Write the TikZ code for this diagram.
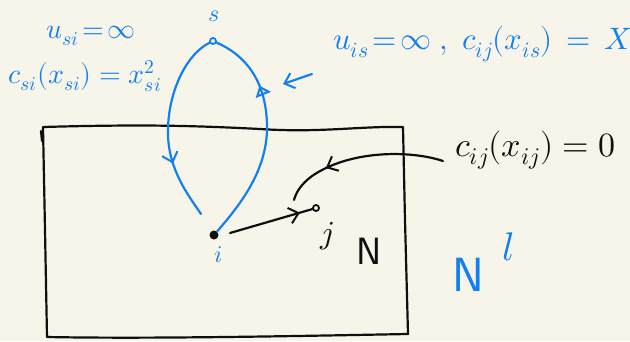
\documentclass[tikz,border=0pt]{standalone}
\usepackage{unicode-math}
\setmathfont{Latin Modern Math}
\usetikzlibrary{arrows.meta,decorations.markings}
\definecolor{bg}{RGB}{247,245,234}
\definecolor{blueink}{RGB}{18,128,240}
\definecolor{ink}{RGB}{15,15,15}
\tikzset{
  blueline/.style={draw=blueink,line width=2.2pt,line cap=round,line join=round},
  blackline/.style={draw=ink,line width=2.2pt,line cap=round,line join=round},
  opencirc/.style={circle,draw=ink,line width=1.8pt,inner sep=0pt,minimum size=6pt},
  dotnode/.style={circle,fill=ink,inner sep=0pt,minimum size=9pt},
  bluetxt/.style={text=blueink,inner sep=0pt,font=\fontsize{28}{30}\selectfont},
  blacktxt/.style={text=ink,inner sep=0pt,font=\fontsize{28}{30}\selectfont},
  midbarb/.style={postaction={decorate,decoration={markings,
     mark=at position #1 with {\arrow{Straight Barb[length=9pt,width=16pt,line width=2pt]}}}}},
  midtri/.style={postaction={decorate,decoration={markings,
     mark=at position #1 with {\arrow{Triangle[open,length=10pt,width=16pt,line width=2pt]}}}}}
}
\begin{document}
\begin{tikzpicture}[x=1pt,y=-1pt]
\path[fill=bg,use as bounding box] (0,0) rectangle (630,341);

% network box
\draw[blackline] (43,127) .. controls (150,124) and (200,126) .. (260,129)
  .. controls (320,133) and (360,126) .. (403,127) -- (405,220) -- (408,334)
  .. controls (300,336) and (150,339) .. (47,337) -- (45,230) -- cycle;
\draw[blackline] (41,131) -- (42,141);

% nodes
\node[opencirc,draw=blueink] (s) at (213,41) {};
\node[dotnode] (i) at (214,235) {};
\node[opencirc] (j) at (316,208) {};
\node[bluetxt,font=\fontsize{24}{26}\selectfont] (slab) at (214,16) {$s$};
\node[bluetxt,font=\fontsize{24}{26}\selectfont] (ilab) at (219,255) {$i$};
\node[blacktxt,font=\fontsize{32}{34}\selectfont] (jlab) at (327,236) {$j$};
\node[blacktxt,font=\fontsize{38}{40}\selectfont\sffamily] (N) at (369,251) {N};
\node[bluetxt,font=\fontsize{48}{50}\selectfont\sffamily] (Nl) at (468,275) {N};
\node[bluetxt,font=\fontsize{40}{42}\selectfont] (Nsup) at (508,247) {$l$};

% labels
\node[bluetxt] (usi) at (91,36) {$u_{si}\!=\!\infty$};
\node[bluetxt] (csi) at (85,76) {$c_{si}(x_{si})=x^{2}_{si}$};
\node[bluetxt,font=\fontsize{31}{33}\selectfont,anchor=west] (uis) at (333,44) {$u_{is}\!=\!\infty\;,\;c_{ij}(x_{is})\,=\,X$};
\node[blacktxt,font=\fontsize{34}{36}\selectfont,anchor=west] (cij) at (455,150) {$c_{ij}(x_{ij})=0$};

% coordinates for free ends
\coordinate (cstart) at (443,161);
\coordinate (iin) at (201,214);
\coordinate (iout) at (230,233);
\coordinate (cend) at (294,200);
\coordinate (pa) at (312,74);
\coordinate (pb) at (283,84);

% s -> i (left branch)
\draw[blueline,midbarb=0.7] (s) .. controls (185,55) and (167,95) .. (168,135)
  .. controls (169,170) and (188,195) .. (iin);
% i -> s (right branch)
\draw[blueline,midtri=0.72] (i) .. controls (240,205) and (268,170) .. (267,125)
  .. controls (266,80) and (245,55) .. (s);
% pointer to the right branch
\draw[blueline,-{Straight Barb[length=9pt,width=16pt,line width=2pt]}] (pa) -- (pb);

% i -> j
\draw[blackline,midbarb=0.85] (iout) -- (j);
% label pointer
\draw[blackline,midbarb=0.72] (cstart) .. controls (410,150) and (350,150) .. (312,176)
  .. controls (300,185) and (296,193) .. (cend);
\end{tikzpicture}
\end{document}
